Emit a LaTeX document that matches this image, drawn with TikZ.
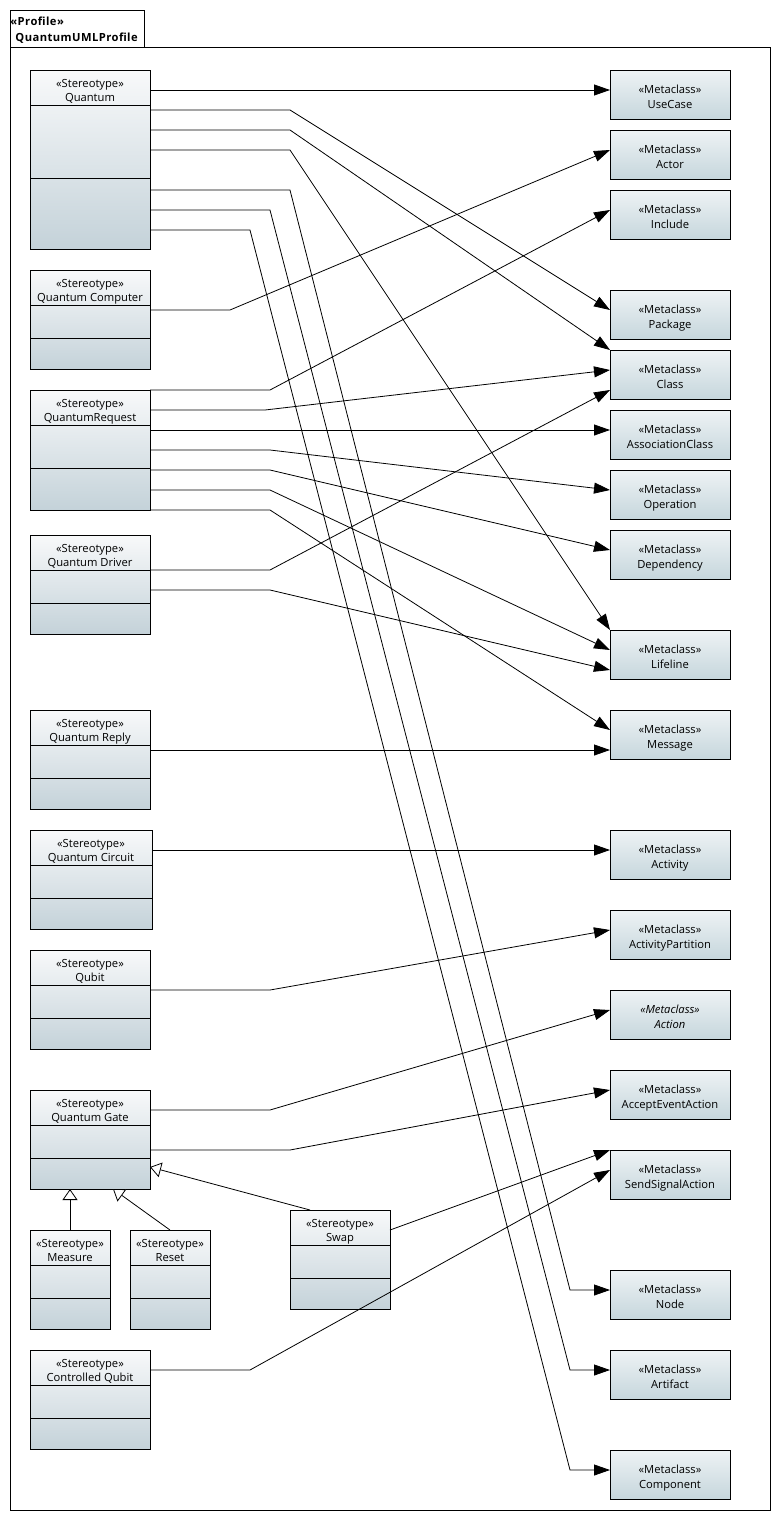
\documentclass[tikz,border=0pt]{standalone}
\usepackage{fontspec}
\setmainfont{Open Sans}
\usetikzlibrary{arrows.meta}
\definecolor{stTop}{HTML}{F8F9FA}
\definecolor{stBot}{HTML}{C4D2D9}
\definecolor{mcTop}{HTML}{EEF3F5}
\definecolor{mcBot}{HTML}{C6D6DC}
% #1 name, #2 x, #3 y, #4 w, #5 h, #6 second divider offset, #7 label
\newcommand\stbox[7]{%
  \node[stboxs, minimum width=#4pt, minimum height=#5pt] (#1) at (#2,#3) {};
  \draw ([yshift=-35pt]#1.north west) -- ([yshift=-35pt]#1.north east);
  \draw ([yshift=-#6pt]#1.north west) -- ([yshift=-#6pt]#1.north east);
  \node[txt] (#1-s) at ([yshift=-17pt]#1.north) {«Stereotype»};
  \node[txt] (#1-n) at ([yshift=-31.5pt]#1.north) {#7};
}
% #1 name, #2 y, #3 label, #4 font switch
\newcommand\mcbox[4]{%
  \node[mcboxs] (#1) at (610,#2) {};
  \node[txt] (#1-s) at ([yshift=-23pt]#1.north) {#4«Metaclass»};
  \node[txt] (#1-n) at ([yshift=-38pt]#1.north) {#4#3};
}
\begin{document}
\begin{tikzpicture}[x=1pt,y=-1pt,line width=0.8pt,
  stboxs/.style={draw, rectangle, anchor=north west, inner sep=0pt, outer sep=0pt,
    top color=stTop, bottom color=stBot},
  mcboxs/.style={draw, rectangle, anchor=north west, inner sep=0pt, outer sep=0pt,
    minimum width=120pt, minimum height=49pt, top color=mcTop, bottom color=mcBot},
  txt/.style={anchor=base, inner sep=0pt, font=\fontsize{11.2}{13}\selectfont},
  ptxt/.style={anchor=base west, inner sep=0pt, font=\fontsize{11.2}{13}\selectfont\bfseries\addfontfeature{LetterSpace=4}},
  arr/.style={-{Triangle[length=16pt,width=11pt]}},
  gen/.style={-{Triangle[open,length=11pt,width=15pt,fill=white]}}]
\useasboundingbox (0,0) rectangle (781,1521);
\fill[white] (0,0) rectangle (781,1521);
% frame
\draw (10,10) rectangle (144,47);
\draw (10,47) rectangle (770,1510);
\node[ptxt] (prof-s) at (10,25) {«Profile»};
\node[ptxt] (prof-n) at (15,41.5) {QuantumUMLProfile};
% stereotypes
\stbox{quantum}{30}{70}{120}{179}{108}{Quantum}
\stbox{qcomp}{30}{270}{120}{99}{68}{Quantum Computer}
\stbox{qreq}{30}{390}{120}{120}{78}{QuantumRequest}
\stbox{qdrv}{30}{535}{120}{99}{68}{Quantum Driver}
\stbox{qrep}{30}{710}{120}{99}{68}{Quantum Reply}
\stbox{qcirc}{30}{830}{122}{99}{68}{Quantum Circuit}
\stbox{qubit}{30}{950}{120}{99}{68}{Qubit}
\stbox{qgate}{30}{1090}{120}{99}{68}{Quantum Gate}
\stbox{measure}{30}{1230}{80}{99}{68}{Measure}
\stbox{reset}{130}{1230}{80}{99}{68}{Reset}
\stbox{swap}{290}{1210}{100}{99}{68}{Swap}
\stbox{cqubit}{30}{1350}{120}{99}{68}{Controlled Qubit}
% metaclasses
\mcbox{usecase}{70}{UseCase}{}
\mcbox{actor}{130}{Actor}{}
\mcbox{include}{190}{Include}{}
\mcbox{package}{290}{Package}{}
\mcbox{class}{350}{Class}{}
\mcbox{assoc}{410}{AssociationClass}{}
\mcbox{operation}{470}{Operation}{}
\mcbox{dependency}{530}{Dependency}{}
\mcbox{lifeline}{630}{Lifeline}{}
\mcbox{message}{710}{Message}{}
\mcbox{activity}{830}{Activity}{}
\mcbox{actpart}{910}{ActivityPartition}{}
\mcbox{action}{990}{Action}{\itshape}
\mcbox{accept}{1070}{AcceptEventAction}{}
\mcbox{sendsig}{1150}{SendSignalAction}{}
\mcbox{mnode}{1270}{Node}{}
\mcbox{artifact}{1350}{Artifact}{}
\mcbox{component}{1450}{Component}{}
% Quantum
\draw[arr] ([yshift=-20pt]quantum.north east) -- ([yshift=-20pt]usecase.north west);
\draw[arr] ([yshift=-40pt]quantum.north east) -- ++(140,0) -- ([yshift=-20pt]package.north west);
\draw[arr] ([yshift=-60pt]quantum.north east) -- ++(140,0) -- (class.north west);
\draw[arr] ([yshift=-80pt]quantum.north east) -- ++(140,0) -- (lifeline.north west);
\draw[arr] ([yshift=-120pt]quantum.north east) -- ++(140,0) -- ([xshift=-40pt,yshift=-20pt]mnode.north west) -- ([yshift=-20pt]mnode.north west);
\draw[arr] ([yshift=-140pt]quantum.north east) -- ++(120,0) -- ([xshift=-40pt,yshift=-20pt]artifact.north west) -- ([yshift=-20pt]artifact.north west);
\draw[arr] ([yshift=-160pt]quantum.north east) -- ++(100,0) -- ([xshift=-40pt,yshift=-20pt]component.north west) -- ([yshift=-20pt]component.north west);
% Quantum Computer
\draw[arr] ([yshift=-40pt]qcomp.north east) -- ++(80,0) -- ([yshift=-20pt]actor.north west);
% QuantumRequest
\draw[arr] (qreq.north east) -- ++(120,0) -- ([yshift=-20pt]include.north west);
\draw[arr] ([yshift=-20pt]qreq.north east) -- ++(115,0) -- ([yshift=-20pt]class.north west);
\draw[arr] ([yshift=-40pt]qreq.north east) -- ([yshift=-20pt]assoc.north west);
\draw[arr] ([yshift=-60pt]qreq.north east) -- ++(120,0) -- ([yshift=-20pt]operation.north west);
\draw[arr] ([yshift=-80pt]qreq.north east) -- ++(120,0) -- ([yshift=-20pt]dependency.north west);
\draw[arr] ([yshift=-100pt]qreq.north east) -- ++(120,0) -- ([yshift=-20pt]lifeline.north west);
\draw[arr] ([yshift=-120pt]qreq.north east) -- ++(120,0) -- ([yshift=-20pt]message.north west);
% Quantum Driver
\draw[arr] ([yshift=-35pt]qdrv.north east) -- ++(120,0) -- ([yshift=-40pt]class.north west);
\draw[arr] ([yshift=-55pt]qdrv.north east) -- ++(120,0) -- ([yshift=-40pt]lifeline.north west);
% Reply, Circuit, Qubit
\draw[arr] ([yshift=-40pt]qrep.north east) -- ([yshift=-40pt]message.north west);
\draw[arr] ([yshift=-20pt]qcirc.north east) -- ([yshift=-20pt]activity.north west);
\draw[arr] ([yshift=-40pt]qubit.north east) -- ++(120,0) -- ([yshift=-20pt]actpart.north west);
% Quantum Gate
\draw[arr] ([yshift=-20pt]qgate.north east) -- ++(120,0) -- ([yshift=-20pt]action.north west);
\draw[arr] ([yshift=-60pt]qgate.north east) -- ++(140,0) -- ([yshift=-20pt]accept.north west);
% Swap, Controlled Qubit
\draw[arr] ([yshift=-20pt]swap.north east) -- (sendsig.north west);
\draw[arr] ([yshift=-20pt]cqubit.north east) -- ++(100,0) -- ([yshift=-20pt]sendsig.north west);
% generalizations
\draw[gen] (measure.north) -- (measure.north |- qgate.south);
\draw[gen] (reset.north) -- ([xshift=23pt]qgate.south);
\draw[gen] ([xshift=-30pt]swap.north) -- ([yshift=-77pt]qgate.north east);
\end{tikzpicture}
\end{document}
